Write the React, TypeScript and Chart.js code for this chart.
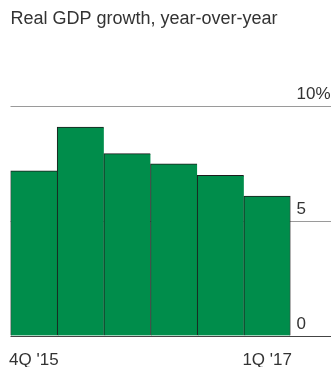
import React, { useEffect, useRef } from "react";
import { Chart, registerables } from "chart.js";

Chart.register(...registerables);

const TITLE = "Real GDP growth, year-over-year";
const quarters = ["4Q '15", "1Q '16", "2Q '16", "3Q '16", "4Q '16", "1Q '17"];
const growth = [7.2, 9.1, 7.95, 7.5, 7.0, 6.1];
const yTicks = [0, 5, 10];

const FONT = "'Liberation Sans', Arial, sans-serif";
const TEXT = "#333333";

export default function App() {
  const ref = useRef<HTMLCanvasElement | null>(null);

  useEffect(() => {
    if (!ref.current) return;
    const last = quarters.length - 1;
    const chart = new Chart(ref.current, {
      type: "bar",
      data: {
        labels: quarters,
        datasets: [
          {
            data: growth,
            backgroundColor: "#008d4b",
            borderColor: "#1c1c1c",
            borderWidth: (ctx: any) => ({
              left: 1,
              top: 1,
              right: ctx.dataIndex === last ? 1 : 0,
              bottom: 0,
            }),
            borderSkipped: false,
            categoryPercentage: 1,
            barPercentage: 1,
          },
        ],
      },
      options: {
        responsive: false,
        animation: false,
        events: [],
        layout: { padding: { left: 10.5, right: 0, top: 0, bottom: 0 } },
        plugins: {
          legend: { display: false },
          tooltip: { enabled: false },
          title: {
            display: true,
            text: TITLE,
            align: "start",
            color: TEXT,
            font: { family: FONT, size: 18, weight: "normal", lineHeight: 1.2 },
            padding: { top: 8, bottom: 76.9 },
          },
        },
        scales: {
          x: {
            type: "category",
            offset: true,
            grid: { display: false, drawTicks: false },
            border: { display: false },
            ticks: {
              autoSkip: false,
              maxRotation: 0,
              minRotation: 0,
              padding: 14,
              color: TEXT,
              font: { family: FONT, size: 17 },
              callback: (_v: any, i: number) =>
                i === 0 || i === last ? quarters[i] : "",
            },
            afterFit: (axis: any) => {
              axis.height = 31;
              axis.paddingLeft = 0;
              axis.paddingRight = 0;
            },
          },
          y: {
            position: "right",
            min: 0,
            max: 10,
            afterBuildTicks: (axis: any) => {
              axis.ticks = yTicks.map((v) => ({ value: v }));
            },
            grid: {
              drawTicks: true,
              tickLength: 41,
              color: (ctx: any) =>
                ctx.tick && ctx.tick.value === 0 ? "#444444" : "#9a9a9a",
              lineWidth: 1,
            },
            border: { display: false },
            ticks: {
              crossAlign: "near",
              padding: -35,
              labelOffset: -12,
              color: TEXT,
              font: { family: FONT, size: 17 },
              callback: (v: any) => (v === 10 ? "10%" : String(v)),
            },
            afterFit: (axis: any) => {
              axis.width = 40.5;
            },
          },
        },
      },
    });
    return () => chart.destroy();
  }, []);

  return (
    <div style={{ position: "absolute", left: 0, top: 0, width: 331, height: 367, background: "#fff" }}>
      <canvas ref={ref} width={331} height={367} style={{ display: "block" }} />
    </div>
  );
}
